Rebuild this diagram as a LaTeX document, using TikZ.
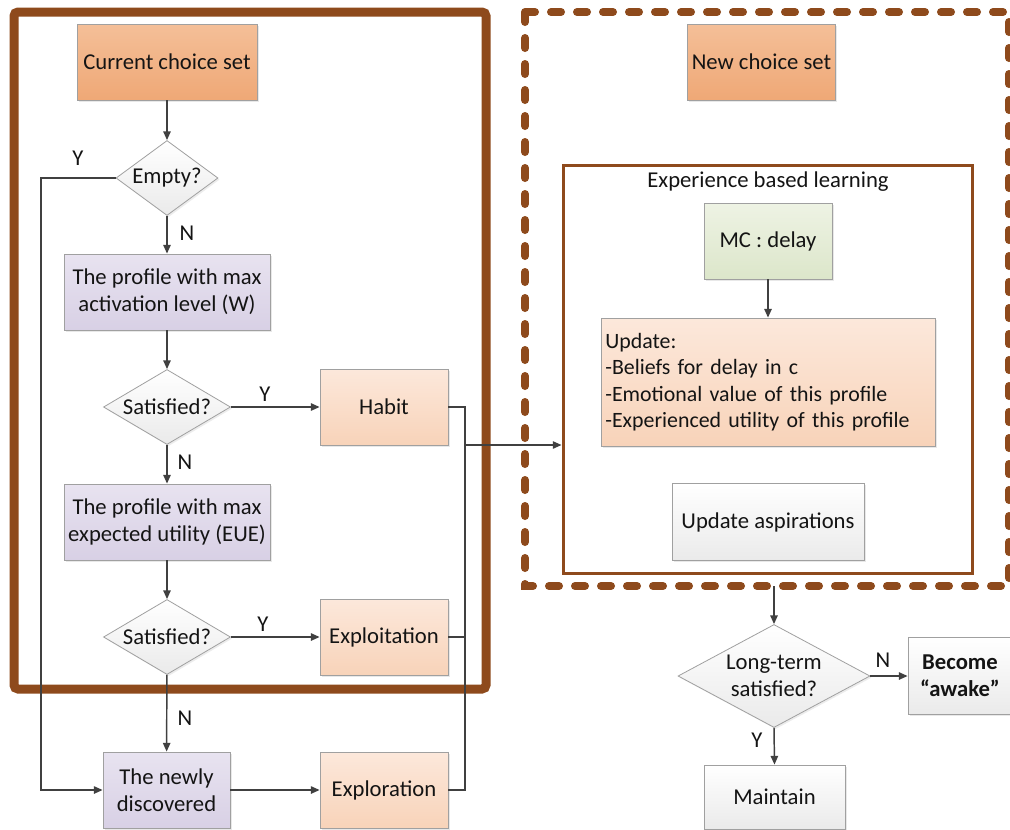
\documentclass[tikz,border=0pt]{standalone}
\usepackage{fontspec}
\setmainfont{Carlito}
\usetikzlibrary{shapes.geometric,arrows.meta,shadows}
\definecolor{brownc}{HTML}{8E4A1C}
\definecolor{orT}{HTML}{F4BF98}
\definecolor{orB}{HTML}{EFA876}
\definecolor{laT}{HTML}{E8E3F0}
\definecolor{laB}{HTML}{D8D0E5}
\definecolor{peT}{HTML}{FCE8DB}
\definecolor{peB}{HTML}{F8D3B9}
\definecolor{grT}{HTML}{EEF3E4}
\definecolor{grB}{HTML}{DCE6CA}
\definecolor{gyT}{HTML}{FFFFFF}
\definecolor{gyB}{HTML}{EAEAEA}
\definecolor{edgec}{HTML}{A0A0A0}
\definecolor{linec}{HTML}{404040}
\definecolor{txtc}{HTML}{141414}
\tikzset{
  box/.style={rectangle, draw=edgec, line width=0.6pt, align=center, inner sep=3pt,
    text=txtc, drop shadow={shadow xshift=1.2pt, shadow yshift=-1.2pt, opacity=0.18}},
  orbox/.style={box, top color=orT, bottom color=orB},
  labox/.style={box, top color=laT, bottom color=laB},
  pebox/.style={box, top color=peT, bottom color=peB},
  grbox/.style={box, top color=grT, bottom color=grB},
  gybox/.style={box, top color=gyT, bottom color=gyB},
  dia/.style={diamond, draw=edgec, line width=0.6pt, align=center, inner sep=0pt,
    top color=white, bottom color=gyB, text=txtc,
    drop shadow={shadow xshift=1.2pt, shadow yshift=-1.2pt, opacity=0.15}},
  conn/.style={draw=linec, line width=1.1pt, -{Triangle[length=6.5pt,width=5.5pt]}},
  plain/.style={draw=linec, line width=1.1pt},
  lbl/.style={text=txtc, inner sep=0pt}
}
\begin{document}
\begin{tikzpicture}[x=0.75pt,y=-0.75pt,font=\fontsize{17}{20.25}\selectfont]
\useasboundingbox (0,0) rectangle (1010,829);
\fill[white] (0,0) rectangle (1010,829);

% containers
\draw[brownc, line width=6.75pt, rounded corners=3pt] (14,12) rectangle (486,689);
\draw[brownc, line width=6pt, line cap=round, dash pattern=on 7.5pt off 12pt] (525,12) rectangle (1009,586);
\node[draw=brownc, line width=2.25pt, rectangle, minimum width=306.75pt, minimum height=306pt, inner sep=0pt] (exp) at (767.5,369) {};
\node[lbl] (title) at (768,182) {Experience based learning};

% left nodes
\node[orbox, minimum width=135pt, minimum height=57pt] (cur) at (167,62) {Current choice set};
\node[dia, minimum width=76.5pt, minimum height=56.25pt, aspect=1.36] (empty) at (167,178) {Empty?};
\node[labox, minimum width=154.5pt, minimum height=57pt] (pw) at (167,292) {The profile with max\\activation level (W)};
\node[dia, minimum width=95.25pt, minimum height=56.25pt, aspect=1.67] (sat1) at (167,407) {Satisfied?};
\node[pebox, minimum width=96pt, minimum height=57pt] (habit) at (384,407) {Habit};
\node[labox, minimum width=154.5pt, minimum height=57pt] (pe) at (167,522) {The profile with max\\expected utility (EUE)};
\node[dia, minimum width=95.25pt, minimum height=56.25pt, aspect=1.67] (sat2) at (167,637) {Satisfied?};
\node[pebox, minimum width=96pt, minimum height=57pt] (exploit) at (384,637) {Exploitation};
\node[labox, minimum width=95.25pt, minimum height=57pt] (newly) at (166.5,790) {The newly\\discovered};
\node[pebox, minimum width=96pt, minimum height=57pt] (explor) at (384,790) {Exploration};

% right nodes
\node[orbox, minimum width=110.25pt, minimum height=57pt] (new) at (761.5,62) {New choice set};
\node[grbox, minimum width=96pt, minimum height=57pt] (mc) at (768,241) {MC : delay};
\node[pebox, minimum width=250.5pt, minimum height=96pt, inner sep=3pt, text width=244pt, align=left,
  font=\fontsize{16.4}{19.75}\selectfont] (upd) at (768,382)
  {Update:\\-Beliefs for delay in c\\-Emotional value of this profile\\-Experienced utility of this profile};
\node[gybox, minimum width=144pt, minimum height=57.75pt] (asp) at (768,522) {Update aspirations};
\node[dia, minimum width=144pt, minimum height=77.25pt, aspect=1.86] (lt) at (774,676) {Long-term\\satisfied?};
\node[gybox, minimum width=78pt, minimum height=57.75pt, font=\fontsize{17}{20.25}\selectfont\bfseries] (awake) at (960,675.5) {Become\\“awake”};
\node[gybox, minimum width=105.75pt, minimum height=48pt] (maint) at (774.5,797) {Maintain};

% helper coordinates
\coordinate (lx) at (41,0);
\coordinate (rx) at (465,0);
\coordinate (j) at (465,445);
\coordinate (db) at (774,586);

% connectors
\draw[conn] (cur) -- (empty);
\draw[conn] (empty) -- (pw);
\draw[conn] (pw) -- (sat1);
\draw[conn] (sat1) -- (pe);
\draw[conn] (pe) -- (sat2);
\draw[conn] (sat2) -- (newly);
\draw[conn] (sat1) -- (habit);
\draw[conn] (sat2) -- (exploit);
\draw[conn] (newly) -- (explor);
\draw[conn] (empty.west) -- (empty.west -| lx) -- (newly.west -| lx) -- (newly.west);
\draw[plain] (habit.east) -- (habit.east -| rx) -- (explor.east -| rx) -- (explor.east);
\draw[plain] (exploit.east) -- (exploit.east -| rx);
\draw[conn] (j) -- (j -| exp.west);
\draw[conn] (mc) -- (upd);
\draw[conn] (db) -- (lt.north);
\draw[conn] (lt.east) -- (lt.east -| awake.west);
\draw[conn] (lt.south) -- (maint.north);

% labels
\node[lbl] (ly1) at (78,158) {Y};
\node[lbl] (ln1) at (187,233) {N};
\node[lbl] (ly2) at (265,394) {Y};
\node[lbl] (ln2) at (185,462) {N};
\node[lbl] (ly3) at (263,624) {Y};
\node[lbl] (ln3) at (185,718) {N};
\node[lbl] (ln4) at (883,660) {N};
\node[lbl] (ly4) at (757,740) {Y};
\end{tikzpicture}
\end{document}
